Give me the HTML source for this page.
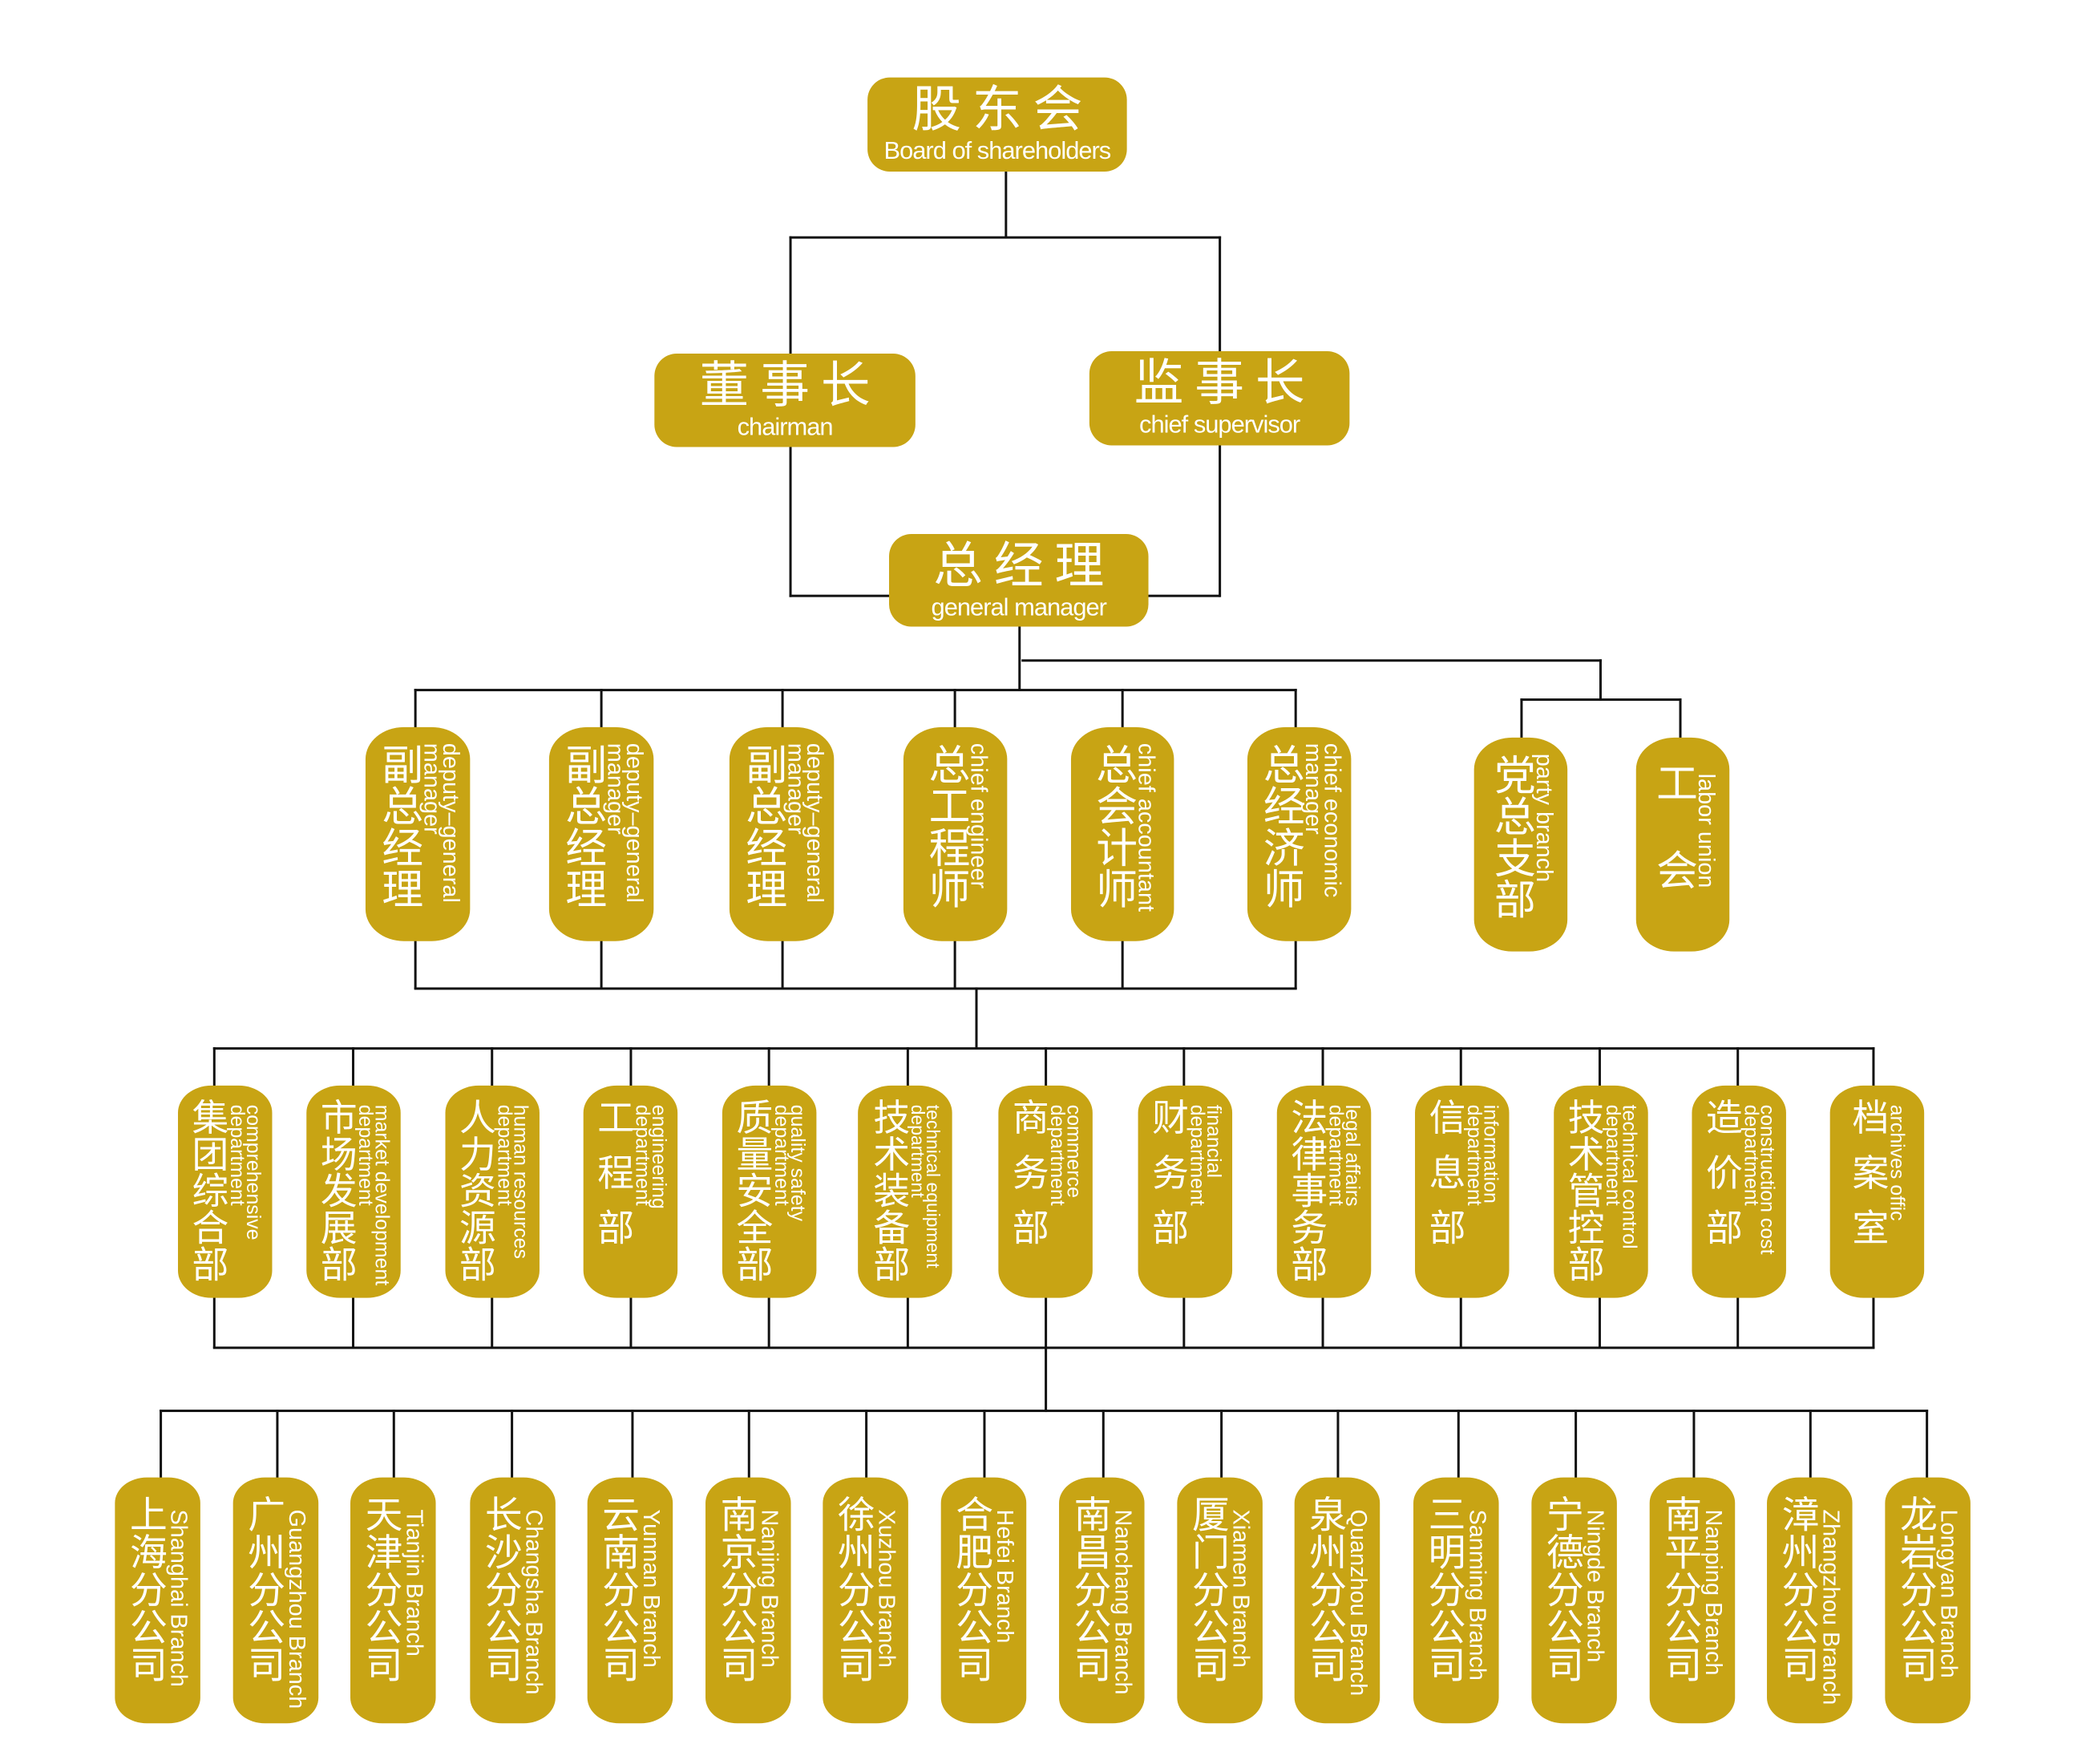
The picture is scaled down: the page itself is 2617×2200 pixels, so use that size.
<!DOCTYPE html><html><head><meta charset="utf-8"><style>
body{margin:0;width:2617px;height:2193px;background:#fff;position:relative;overflow:hidden;font-family:"Liberation Sans","Noto Sans CJK SC",sans-serif}
#w{position:absolute;left:0;top:0;width:2630px;height:2210px;transform:scale(0.9955);transform-origin:0 0}
.l{position:absolute;background:#111}
.b{position:absolute;background:#c8a414;color:#fff;box-sizing:border-box}
.h{border-radius:28px;text-align:center}
.h .c{font-size:62px;letter-spacing:14px;line-height:1;padding-top:10px;margin-left:14px}
.h .e{font-size:31px;line-height:1;margin-top:4px;letter-spacing:-1px}
.v{display:flex;flex-direction:row;justify-content:center;align-items:flex-start;gap:2px}
.v div{writing-mode:vertical-rl;white-space:nowrap}
.r2{top:911px;height:268px;border-radius:48px/40px;padding-top:20px}
.r2 .c{font-size:52px;line-height:1.05}
.r2 .e{font-size:29px;line-height:.82}
.r3{top:1360px;height:266px;width:118px;border-radius:42px/34px;padding-top:16px}
.r3 .c{font-size:46px;line-height:1.05}
.r3 .e{font-size:25px;line-height:.82;margin-top:8px}
.r4{top:1851px;height:308px;width:107px;border-radius:40px/32px;padding-top:22px}
.r4 .c{font-size:47px;line-height:1.05}
.r4 .e{font-size:29px;line-height:1;margin-top:18px}
.s{letter-spacing:.5em}
</style></head><body><div id="w">
<div class="l" style="left:1259px;top:215px;width:3px;height:83px"></div>
<div class="l" style="left:989px;top:296px;width:541px;height:3px"></div>
<div class="l" style="left:989px;top:296px;width:3px;height:150px"></div>
<div class="l" style="left:1527px;top:296px;width:3px;height:150px"></div>
<div class="l" style="left:989px;top:560px;width:3px;height:188px"></div>
<div class="l" style="left:1527px;top:558px;width:3px;height:190px"></div>
<div class="l" style="left:989px;top:745px;width:540px;height:3px"></div>
<div class="l" style="left:1276px;top:785px;width:3px;height:80px"></div>
<div class="l" style="left:1280px;top:826px;width:727px;height:3px"></div>
<div class="l" style="left:2004px;top:826px;width:3px;height:51px"></div>
<div class="l" style="left:1905px;top:875px;width:202px;height:3px"></div>
<div class="l" style="left:1905px;top:875px;width:3px;height:50px"></div>
<div class="l" style="left:2104px;top:875px;width:3px;height:50px"></div>
<div class="l" style="left:519px;top:863px;width:1106px;height:3px"></div>
<div class="l" style="left:519px;top:1237px;width:1106px;height:3px"></div>
<div class="l" style="left:519px;top:863px;width:3px;height:376px"></div>
<div class="l" style="left:752px;top:863px;width:3px;height:376px"></div>
<div class="l" style="left:979px;top:863px;width:3px;height:376px"></div>
<div class="l" style="left:1195px;top:863px;width:3px;height:376px"></div>
<div class="l" style="left:1405px;top:863px;width:3px;height:376px"></div>
<div class="l" style="left:1622px;top:863px;width:3px;height:376px"></div>
<div class="l" style="left:1222px;top:1237px;width:3px;height:77px"></div>
<div class="l" style="left:267px;top:1312px;width:2082px;height:3px"></div>
<div class="l" style="left:267px;top:1687px;width:2082px;height:3px"></div>
<div class="l" style="left:267px;top:1312px;width:3px;height:377px"></div>
<div class="l" style="left:441px;top:1312px;width:3px;height:377px"></div>
<div class="l" style="left:615px;top:1312px;width:3px;height:377px"></div>
<div class="l" style="left:789px;top:1312px;width:3px;height:377px"></div>
<div class="l" style="left:962px;top:1312px;width:3px;height:377px"></div>
<div class="l" style="left:1136px;top:1312px;width:3px;height:377px"></div>
<div class="l" style="left:1309px;top:1312px;width:3px;height:457px"></div>
<div class="l" style="left:1482px;top:1312px;width:3px;height:377px"></div>
<div class="l" style="left:1656px;top:1312px;width:3px;height:377px"></div>
<div class="l" style="left:1829px;top:1312px;width:3px;height:377px"></div>
<div class="l" style="left:2003px;top:1312px;width:3px;height:377px"></div>
<div class="l" style="left:2176px;top:1312px;width:3px;height:377px"></div>
<div class="l" style="left:2346px;top:1312px;width:3px;height:377px"></div>
<div class="l" style="left:200px;top:1766px;width:2216px;height:3px"></div>
<div class="l" style="left:200px;top:1766px;width:3px;height:90px"></div>
<div class="l" style="left:346px;top:1766px;width:3px;height:90px"></div>
<div class="l" style="left:492px;top:1766px;width:3px;height:90px"></div>
<div class="l" style="left:640px;top:1766px;width:3px;height:90px"></div>
<div class="l" style="left:791px;top:1766px;width:3px;height:90px"></div>
<div class="l" style="left:937px;top:1766px;width:3px;height:90px"></div>
<div class="l" style="left:1084px;top:1766px;width:3px;height:90px"></div>
<div class="l" style="left:1232px;top:1766px;width:3px;height:90px"></div>
<div class="l" style="left:1381px;top:1766px;width:3px;height:90px"></div>
<div class="l" style="left:1529px;top:1766px;width:3px;height:90px"></div>
<div class="l" style="left:1675px;top:1766px;width:3px;height:90px"></div>
<div class="l" style="left:1826px;top:1766px;width:3px;height:90px"></div>
<div class="l" style="left:1973px;top:1766px;width:3px;height:90px"></div>
<div class="l" style="left:2121px;top:1766px;width:3px;height:90px"></div>
<div class="l" style="left:2267px;top:1766px;width:3px;height:90px"></div>
<div class="l" style="left:2413px;top:1766px;width:3px;height:90px"></div>

<div class="b h" style="left:1087px;top:97px;width:325px;height:118px"><div class="c">股东会</div><div class="e">Board of shareholders</div></div>
<div class="b h" style="left:820px;top:443px;width:327px;height:117px"><div class="c">董事长</div><div class="e">chairman</div></div>
<div class="b h" style="left:1365px;top:440px;width:326px;height:118px"><div class="c">监事长</div><div class="e">chief supervisor</div></div>
<div class="b h" style="left:1114px;top:669px;width:325px;height:116px"><div class="c">总经理</div><div class="e">general manager</div></div>

<div class="b v r2" style="left:458px;width:131px"><div class="c">副总经理</div><div class="e">deputy–general<br>manager</div></div>
<div class="b v r2" style="left:688px;width:131px"><div class="c">副总经理</div><div class="e">deputy–general<br>manager</div></div>
<div class="b v r2" style="left:914px;width:131px"><div class="c">副总经理</div><div class="e">deputy–general<br>manager</div></div>
<div class="b v r2" style="left:1132px;width:130px"><div class="c">总工程师</div><div class="e">chief engineer</div></div>
<div class="b v r2" style="left:1342px;width:129px"><div class="c">总会计师</div><div class="e">chief accountant</div></div>
<div class="b v r2" style="left:1563px;width:130px"><div class="c">总经济师</div><div class="e">chief economic<br>manager</div></div>
<div class="b v r2" style="left:1847px;top:924px;width:117px"><div class="c">党总支部</div><div class="e">party branch</div></div>
<div class="b v r2" style="left:2050px;top:924px;width:117px"><div class="c" style="letter-spacing:1.1em;margin-top:10px">工会</div><div class="e" style="margin-top:25px">labor union</div></div>

<div class="b v r3" style="left:223px"><div class="c">集团综合部</div><div class="e">comprehensive<br>department</div></div>
<div class="b v r3" style="left:384px"><div class="c">市场发展部</div><div class="e">market development<br>department</div></div>
<div class="b v r3" style="left:558px"><div class="c">人力资源部</div><div class="e">human resources<br>department</div></div>
<div class="b v r3" style="left:731px"><div class="c s">工程部</div><div class="e">engineering<br>department</div></div>
<div class="b v r3" style="left:905px"><div class="c">质量安全部</div><div class="e">quality safety<br>department</div></div>
<div class="b v r3" style="left:1075px"><div class="c">技术装备部</div><div class="e" style="font-size:23px">technical equipment<br>department</div></div>
<div class="b v r3" style="left:1251px"><div class="c s">商务部</div><div class="e">commerce<br>department</div></div>
<div class="b v r3" style="left:1426px"><div class="c s">财务部</div><div class="e">financial<br>department</div></div>
<div class="b v r3" style="left:1600px"><div class="c">法律事务部</div><div class="e">legal affairs<br>department</div></div>
<div class="b v r3" style="left:1773px"><div class="c s">信息部</div><div class="e">information<br>department</div></div>
<div class="b v r3" style="left:1947px"><div class="c">技术管控部</div><div class="e">technical control<br>department</div></div>
<div class="b v r3" style="left:2120px"><div class="c s">造价部</div><div class="e">construction cost<br>department</div></div>
<div class="b v r3" style="left:2293px"><div class="c s">档案室</div><div class="e">archives offic</div></div>

<div class="b v r4" style="left:144px"><div class="c">上海分公司</div><div class="e">Shanghai Branch</div></div>
<div class="b v r4" style="left:292px"><div class="c">广州分公司</div><div class="e">Guangzhou Branch</div></div>
<div class="b v r4" style="left:439px"><div class="c">天津分公司</div><div class="e">Tianjin Branch</div></div>
<div class="b v r4" style="left:589px"><div class="c">长沙分公司</div><div class="e">Changsha Branch</div></div>
<div class="b v r4" style="left:736px"><div class="c">云南分公司</div><div class="e">Yunnan Branch</div></div>
<div class="b v r4" style="left:884px"><div class="c">南京分公司</div><div class="e">Nanjing Branch</div></div>
<div class="b v r4" style="left:1031px"><div class="c">徐州分公司</div><div class="e">Xuzhou Branch</div></div>
<div class="b v r4" style="left:1179px"><div class="c">合肥分公司</div><div class="e">Hefei Branch</div></div>
<div class="b v r4" style="left:1327px"><div class="c">南昌分公司</div><div class="e">Nanchang Branch</div></div>
<div class="b v r4" style="left:1475px"><div class="c">厦门分公司</div><div class="e">Xiamen Branch</div></div>
<div class="b v r4" style="left:1622px"><div class="c">泉州分公司</div><div class="e">Quanzhou Branch</div></div>
<div class="b v r4" style="left:1771px"><div class="c">三明分公司</div><div class="e">Sanming Branch</div></div>
<div class="b v r4" style="left:1919px"><div class="c">宁德分公司</div><div class="e">Ningde Branch</div></div>
<div class="b v r4" style="left:2067px"><div class="c">南平分公司</div><div class="e">Nanping Branch</div></div>
<div class="b v r4" style="left:2214px"><div class="c">漳州分公司</div><div class="e">Zhangzhou Branch</div></div>
<div class="b v r4" style="left:2362px"><div class="c">龙岩分公司</div><div class="e">Longyan Branch</div></div>
</div></body></html>
